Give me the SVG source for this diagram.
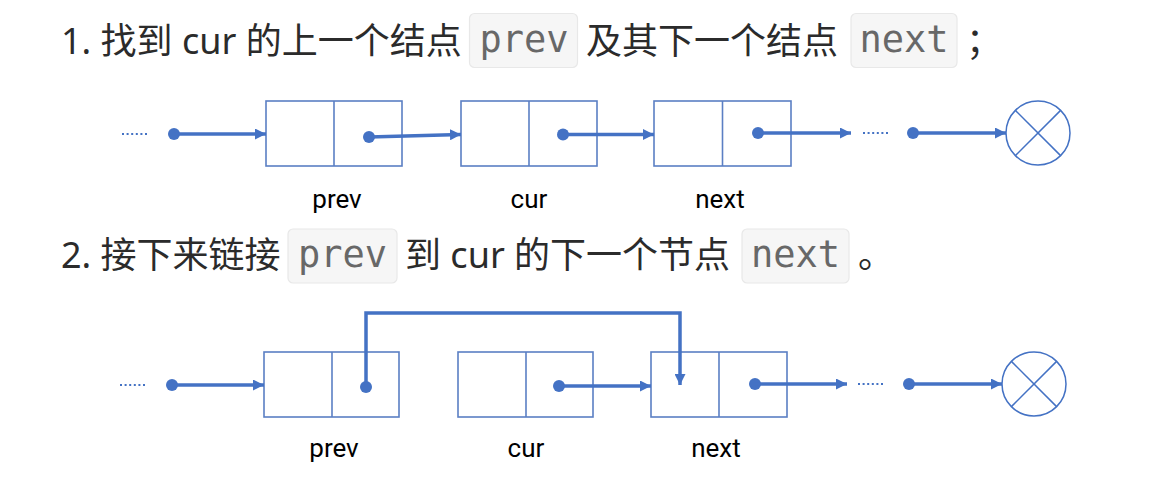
<svg xmlns="http://www.w3.org/2000/svg" width="1162" height="496" viewBox="0 0 1162 496">
<defs>
<style>
.t{font-family:"Noto Sans","Noto Sans CJK SC",sans-serif;font-size:36px;fill:#2b2b2b}
.code{font-family:"DejaVu Sans Mono",monospace;font-size:37px;fill:#686868;text-anchor:middle}
.cb{fill:#f6f6f6;stroke:#e8e8e8;stroke-width:1.2}
.box{fill:#fff;stroke:#5b7fc4;stroke-width:1.6}
.lbl{font-family:Roboto,sans-serif;font-size:26px;fill:#000;text-anchor:middle}
.ln{fill:none;stroke:#4472c4;stroke-width:3.5}
.dot{fill:#4472c4}
.dd{stroke:#4472c4;stroke-width:2.2;stroke-dasharray:2 2.6}
.nil{fill:#fff;stroke:#4472c4;stroke-width:1.5}
</style>
<marker id="ah" viewBox="0 0 10 10" refX="10" refY="5" markerWidth="11" markerHeight="11" markerUnits="userSpaceOnUse" orient="auto">
<path d="M0,0 L10,5 L0,10 z" fill="#4472c4"/>
</marker>
</defs>
<rect width="1162" height="496" fill="#fff"/>

<g id="caption1">
<text class="t" x="61" y="54">1. 找到 cur 的上一个结点</text>
<rect class="cb" x="469.5" y="13.5" width="108" height="54" rx="5"/>
<text class="code" x="524" y="52">prev</text>
<text class="t" x="586" y="54">及其下一个结点</text>
<rect class="cb" x="851" y="13.5" width="106" height="54" rx="5"/>
<text class="code" x="904" y="52">next</text>
<text class="t" x="966" y="54">；</text>
</g>

<g id="row1-prev">
<rect class="box" x="266" y="101" width="136" height="65"/>
<line class="box" x1="334" y1="101" x2="334" y2="166"/>
<text class="lbl" x="337" y="208">prev</text>
</g>
<g id="row1-cur">
<rect class="box" x="461" y="101" width="136" height="65"/>
<line class="box" x1="529" y1="101" x2="529" y2="166"/>
<text class="lbl" x="529" y="208">cur</text>
</g>
<g id="row1-next">
<rect class="box" x="654" y="101" width="137" height="65"/>
<line class="box" x1="722.5" y1="101" x2="722.5" y2="166"/>
<text class="lbl" x="720" y="208">next</text>
</g>
<g id="row1-null">
<circle class="nil" cx="1038" cy="133" r="32"/>
<line class="nil" x1="1015.4" y1="110.4" x2="1060.6" y2="155.6"/>
<line class="nil" x1="1060.6" y1="110.4" x2="1015.4" y2="155.6"/>
</g>

<g id="connectors1">
<line class="dd" x1="122" y1="134" x2="149" y2="134"/>
<circle class="dot" cx="174" cy="134" r="6"/>
<line class="ln" x1="174" y1="134" x2="266" y2="134" marker-end="url(#ah)"/>
<circle class="dot" cx="369" cy="137" r="6"/>
<line class="ln" x1="369" y1="137" x2="461" y2="134.5" marker-end="url(#ah)"/>
<circle class="dot" cx="563" cy="134.5" r="6"/>
<line class="ln" x1="563" y1="134.5" x2="654" y2="134.5" marker-end="url(#ah)"/>
<circle class="dot" cx="758" cy="133" r="6"/>
<line class="ln" x1="758" y1="133" x2="851" y2="133" marker-end="url(#ah)"/>
<line class="dd" x1="863" y1="133" x2="890" y2="133"/>
<circle class="dot" cx="913" cy="133" r="6"/>
<line class="ln" x1="913" y1="133" x2="1006" y2="133" marker-end="url(#ah)"/>
</g>

<g id="caption2">
<text class="t" x="61" y="268">2. 接下来链接</text>
<rect class="cb" x="288" y="229" width="109" height="54" rx="5"/>
<text class="code" x="342.5" y="267">prev</text>
<text class="t" x="405" y="268">到 cur 的下一个节点</text>
<rect class="cb" x="742" y="229" width="107" height="54" rx="5"/>
<text class="code" x="795.5" y="267">next</text>
<text class="t" x="858" y="268">。</text>
</g>

<g id="row2-prev">
<rect class="box" x="264" y="352" width="135" height="65"/>
<line class="box" x1="332" y1="352" x2="332" y2="417"/>
<text class="lbl" x="334" y="457">prev</text>
</g>
<g id="row2-cur">
<rect class="box" x="458" y="352" width="135" height="65"/>
<line class="box" x1="526" y1="352" x2="526" y2="417"/>
<text class="lbl" x="526" y="457">cur</text>
</g>
<g id="row2-next">
<rect class="box" x="651" y="352" width="136" height="65"/>
<line class="box" x1="719" y1="352" x2="719" y2="417"/>
<text class="lbl" x="716" y="457">next</text>
</g>
<g id="row2-null">
<circle class="nil" cx="1034" cy="384" r="32"/>
<line class="nil" x1="1011.4" y1="361.4" x2="1056.6" y2="406.6"/>
<line class="nil" x1="1056.6" y1="361.4" x2="1011.4" y2="406.6"/>
</g>

<g id="connectors2">
<line class="dd" x1="120" y1="385" x2="147" y2="385"/>
<circle class="dot" cx="172" cy="385" r="6"/>
<line class="ln" x1="172" y1="385" x2="264" y2="385" marker-end="url(#ah)"/>
<circle class="dot" cx="366" cy="387" r="6"/>
<path class="ln" d="M366,387 V313 H680 V385" marker-end="url(#ah)"/>
<circle class="dot" cx="559" cy="386" r="6"/>
<line class="ln" x1="559" y1="386" x2="651" y2="386" marker-end="url(#ah)"/>
<circle class="dot" cx="755" cy="384" r="6"/>
<line class="ln" x1="755" y1="384" x2="847" y2="384" marker-end="url(#ah)"/>
<line class="dd" x1="858" y1="384" x2="885" y2="384"/>
<circle class="dot" cx="909" cy="384" r="6"/>
<line class="ln" x1="909" y1="384" x2="1002" y2="384" marker-end="url(#ah)"/>
</g>
</svg>
